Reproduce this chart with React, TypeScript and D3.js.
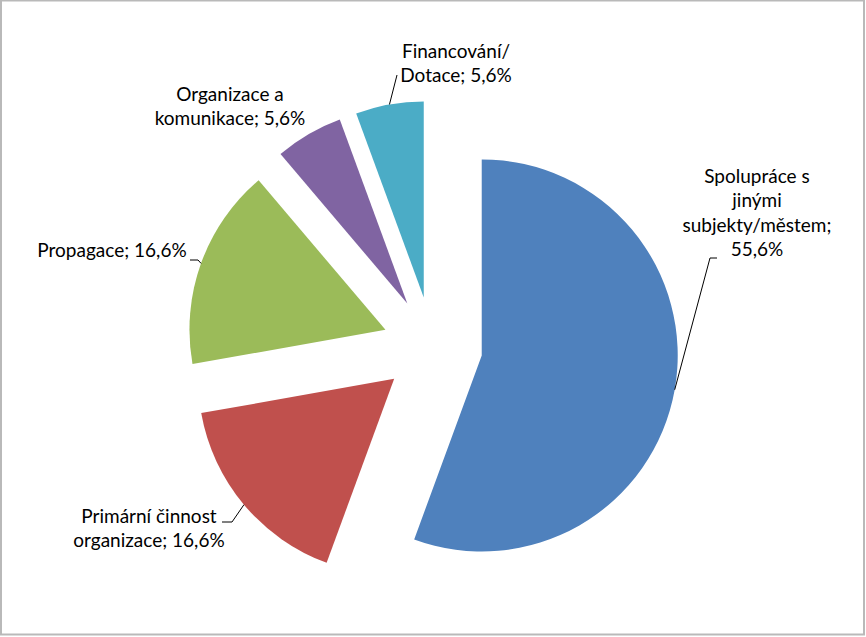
import React from "react";
import * as d3 from "d3";

const categories = [
  "Spolupráce s jinými subjekty/městem",
  "Primární činnost organizace",
  "Propagace",
  "Organizace a komunikace",
  "Financování/Dotace",
];
const values = [55.6, 16.6, 16.6, 5.6, 5.6];
const labelLines = [
  ["Spolupráce s", "jinými", "subjekty/městem;", "55,6%"],
  ["Primární činnost", "organizace; 16,6%"],
  ["Propagace; 16,6%"],
  ["Organizace a", "komunikace; 5,6%"],
  ["Financování/", "Dotace; 5,6%"],
];
const colors = ["#4F81BD", "#C0504D", "#9BBB59", "#8064A2", "#4BACC6"];

// layout (label anchor = centre x, first baseline y; leader polyline points after arc point)
const labelLayout = [
  { x: 757, y: 183, leader: [[710, 258], [717, 258]] },
  { x: 149, y: 523, leader: [[232, 522], [222, 522]] },
  { x: 112, y: 257, leader: [[198, 260], [190, 260]] },
  { x: 230, y: 101, leader: null },
  { x: 456, y: 58, leader: [[397, 75]] },
];

const W = 866;
const H = 637;
const CX = 432.5;
const CY = 346.7;
const R = 196;
const EXPLODE = 50;
const LINE_H = 24.3;

export default function App() {
  const pie = d3
    .pie<number>()
    .sort(null)
    .startAngle(0)
    .endAngle(2 * Math.PI)
    .value((d) => d);
  const arcs = pie(values);
  const arcGen = d3.arc<d3.PieArcDatum<number>>().innerRadius(0).outerRadius(R);

  return (
    <svg
      width={W}
      height={H}
      style={{ position: "absolute", left: 0, top: 0, background: "#fff" }}
      fontFamily="Lato, 'Open Sans', sans-serif"
    >
      <rect x={0} y={0} width={W} height={H} fill="#fff" />
      <rect x={1} y={0.5} width={863} height={634} fill="none" stroke="#b9b9b9" strokeWidth={2} />
      {arcs.map((a, i) => {
        const mid = (a.startAngle + a.endAngle) / 2;
        const ox = CX + EXPLODE * Math.sin(mid);
        const oy = CY - EXPLODE * Math.cos(mid);
        const ax = ox + R * Math.sin(mid);
        const ay = oy - R * Math.cos(mid);
        const lay = labelLayout[i];
        const pts = lay.leader ? [[ax, ay], ...lay.leader] : null;
        return (
          <g key={categories[i]}>
            <path d={arcGen(a) || ""} transform={`translate(${ox},${oy})`} fill={colors[i]} />
            {pts && (
              <polyline
                points={pts.map((p) => p.join(",")).join(" ")}
                fill="none"
                stroke="#000"
                strokeWidth={1}
              />
            )}
            <text x={lay.x} y={lay.y} textAnchor="middle" fontSize={19} fill="#000">
              {labelLines[i].map((l, j) => (
                <tspan key={j} x={lay.x} y={lay.y + j * LINE_H}>
                  {l}
                </tspan>
              ))}
            </text>
          </g>
        );
      })}
    </svg>
  );
}
